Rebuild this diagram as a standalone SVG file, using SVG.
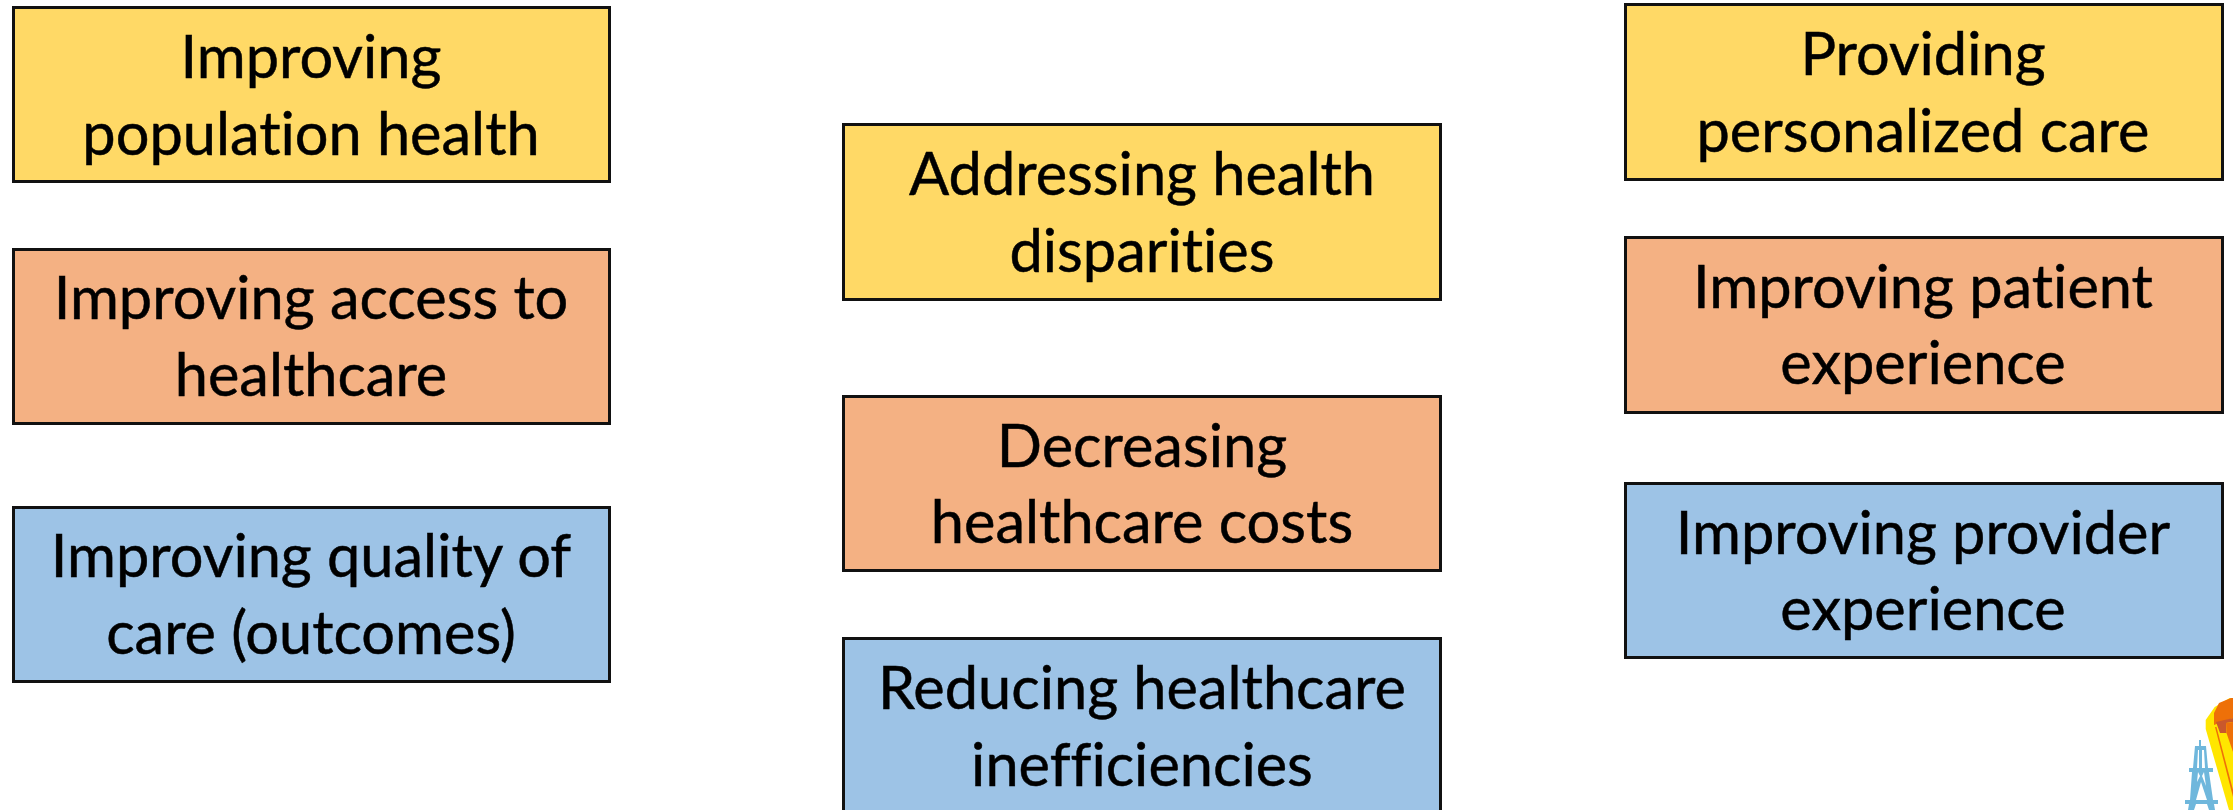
<svg xmlns="http://www.w3.org/2000/svg" width="2233" height="810" viewBox="0 0 2233 810">
<style>
.b{stroke:#111;stroke-width:3}
.y{fill:#ffd966}.o{fill:#f4b183}.l{fill:#9dc3e6}
text{font-family:"Lato","Open Sans","Liberation Sans",sans-serif;font-size:59.5px;fill:#000;stroke:#000;stroke-width:.5;text-anchor:middle;font-variant-ligatures:none}
.t{fill:#6fb7dc}
</style>
<g id="n1"><rect class="b y" x="13.5" y="7.5" width="596" height="174"/><text x="311" y="78">Improving</text><text x="311" y="155">population health</text></g>
<g id="n2"><rect class="b o" x="13.5" y="249.5" width="596" height="174"/><text x="311" y="319">Improving access to</text><text x="311" y="396">healthcare</text></g>
<g id="n3"><rect class="b l" x="13.5" y="507.5" width="596" height="174"/><text x="311" y="577">Improving quality of</text><text x="311" y="654">care (outcomes)</text></g>
<g id="n4"><rect class="b y" x="843.5" y="124.5" width="597" height="175"/><text x="1142" y="195">Addressing health</text><text x="1142" y="272">disparities</text></g>
<g id="n5"><rect class="b o" x="843.5" y="396.5" width="597" height="174"/><text x="1142" y="467">Decreasing</text><text x="1142" y="543">healthcare costs</text></g>
<g id="n6"><rect class="b l" x="843.5" y="638.5" width="597" height="180"/><text x="1142" y="709">Reducing healthcare</text><text x="1142" y="786">inefficiencies</text></g>
<g id="n7"><rect class="b y" x="1625.5" y="4.5" width="597" height="175"/><text x="1923" y="75">Providing</text><text x="1923" y="152">personalized care</text></g>
<g id="n8"><rect class="b o" x="1625.5" y="237.5" width="597" height="175"/><text x="1923" y="308">Improving patient</text><text x="1923" y="384">experience</text></g>
<g id="n9"><rect class="b l" x="1625.5" y="483.5" width="597" height="174"/><text x="1923" y="554">Improving provider</text><text x="1923" y="630">experience</text></g>
<g id="logo">
<path d="M2205.7 720 L2214.7 707 L2229.7 698 H2233 V810 H2229 L2205.7 729 Z" fill="#ffe600"/>
<path d="M2214 725 V713 L2219 703 L2231 698 H2233 V718 Z" fill="#ee7008"/>
<path d="M2216 722 L2233 718 V722 L2226 723 L2226.5 733 H2220 Z" fill="#c9582c"/>
<path d="M2226 723 L2233 722 V752 L2226.5 733 Z" fill="#ee7008"/>
<path d="M2215 727 L2216.5 727 L2233 790 V797 Z" fill="#ee7008"/>
<g class="t">
<rect x="2199" y="740" width="2" height="10"/>
<path d="M2195 746 H2206 L2208 768 H2213 V772 H2209 L2213 800 H2218 V804 H2214 L2215 810 H2209 L2207 804 H2196 L2194 810 H2188 L2189 804 H2185 V800 H2190 L2192 772 H2189 V768 H2193 Z M2198 750 L2197 768 H2199 V750 Z M2202 750 V768 H2205 L2204 750 Z M2198 772 L2197 782 L2200 776 L2198 772 Z M2204 772 L2202 776 L2206 786 Z M2201 782 L2196 800 H2207 Z" fill-rule="evenodd"/>
</g>
</g>
<g id="connectors"></g>
</svg>
